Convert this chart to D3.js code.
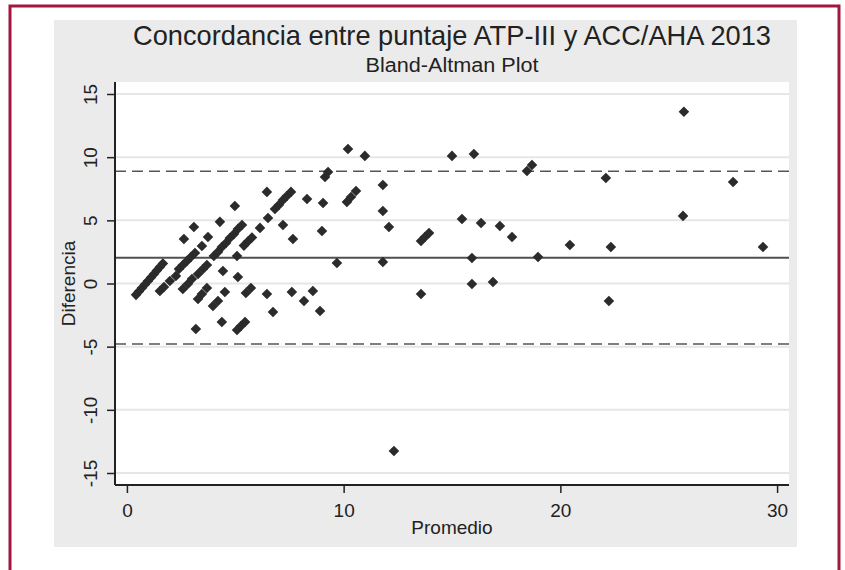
<!DOCTYPE html>
<html>
<head>
<meta charset="utf-8">
<script src="https://cdn.jsdelivr.net/npm/d3@7"></script>
<style>
  body { margin: 0; background: #fff; }
  text { font-family: "Liberation Sans", Arial, sans-serif; fill: #222; }
</style>
</head>
<body>
<script>
// Bland-Altman: promedio (x) y diferencia (y)
const promedio = [
  0.42, 0.55, 0.69, 0.83, 0.97, 1.11, 1.25, 1.38, 1.52, 1.66,
  1.52, 1.71, 1.98, 2.26,
  2.40, 2.58, 2.77, 2.95, 3.14,
  2.63, 3.09, 3.46, 3.74,
  2.58, 2.81, 3.00, 3.28, 3.46, 3.69, 3.28, 3.51, 3.69,
  3.18, 3.97, 4.20, 4.52,
  4.01, 4.20, 4.38, 4.57, 4.75, 4.94, 5.12, 5.31,
  4.43, 4.29, 4.38, 4.98, 5.08, 5.12,
  5.40, 5.58, 5.77, 5.49, 5.72, 5.08, 5.26, 5.45,
  6.14, 6.46, 6.51, 6.83, 7.01, 7.20, 7.38, 7.57,
  7.20, 7.66, 6.46, 6.74, 7.61, 8.17, 8.58, 8.91,
  8.31, 9.05, 9.00, 9.69, 9.14, 9.28,
  10.20, 10.98, 10.15, 10.34, 10.57,
  11.81, 11.81, 12.09, 11.81, 12.32,
  13.57, 13.57, 13.75, 13.94,
  15.00, 16.01, 15.46, 15.92, 15.92, 16.34, 16.89, 17.21, 17.77,
  18.46, 18.69, 18.97, 20.44,
  22.10, 22.33, 22.24, 25.70, 25.66, 27.97, 29.35
];
const diferencia = [
  -0.90, -0.63, -0.36, -0.08, 0.20, 0.47, 0.75, 1.03, 1.30, 1.58,
  -0.59, -0.28, 0.20, 0.60,
  1.15, 1.47, 1.78, 2.10, 2.42,
  3.52, 4.47, 2.97, 3.68,
  -0.44, -0.04, 0.36, -1.23, -0.83, -0.36, 0.75, 1.15, 1.47,
  -3.60, -1.78, -1.39, -0.67,
  2.18, 2.50, 2.89, 3.21, 3.60, 3.92, 4.32, 4.63,
  0.99, 4.88, -3.05, 6.14, 2.18, 0.51,
  3.00, 3.33, 3.64, -0.75, -0.36, -3.68, -3.37, -3.05,
  4.40, 7.25, 5.19, 5.90, 6.22, 6.61, 6.93, 7.25,
  4.63, 3.52, -0.83, -2.26, -0.67, -1.39, -0.59, -2.18,
  6.69, 6.37, 4.16, 1.62, 8.43, 8.83,
  10.65, 10.10, 6.45, 6.85, 7.32,
  7.80, 5.74, 4.47, 1.70, -13.26,
  -0.83, 3.37, 3.68, 4.00,
  10.10, 10.25, 5.11, 2.02, -0.04, 4.79, 0.12, 4.55, 3.68,
  8.91, 9.38, 2.10, 3.05,
  8.35, 2.89, -1.39, 13.60, 5.35, 8.04, 2.89
];

const meanDiff = 2.04;
const limits = [8.88, -4.79];

const xTicks = [0, 10, 20, 30];
const yTicks = [-15, -10, -5, 0, 5, 10, 15];

const titulo = "Concordancia entre puntaje ATP-III y ACC/AHA 2013";
const subtitulo = "Bland-Altman Plot";

const W = 845, H = 570;
const plot = { left: 115, right: 789, top: 82, bottom: 485 };

const svg = d3.select('body').append('svg')
  .attr('width', W)
  .attr('height', H);

// marco exterior
svg.append('rect')
  .attr('x', 10).attr('y', 6)
  .attr('width', 829).attr('height', 580)
  .attr('fill', '#fff')
  .attr('stroke', '#a3173f')
  .attr('stroke-width', 3);

// fondo gris del grafico
svg.append('rect')
  .attr('x', 54).attr('y', 20)
  .attr('width', 743).attr('height', 527)
  .attr('fill', '#ebebeb');

svg.append('rect')
  .attr('x', plot.left).attr('y', plot.top)
  .attr('width', plot.right - plot.left).attr('height', plot.bottom - plot.top)
  .attr('fill', '#fff');

const x = d3.scaleLinear().domain([-0.55, 30.55]).range([plot.left, plot.right]);
const y = d3.scaleLinear().domain([-15.95, 15.95]).range([plot.bottom, plot.top]);

// lineas de cuadricula
svg.append('g')
  .selectAll('line')
  .data(yTicks)
  .join('line')
  .attr('x1', plot.left).attr('x2', plot.right)
  .attr('y1', d => y(d)).attr('y2', d => y(d))
  .attr('stroke', '#e6e6e6')
  .attr('stroke-width', 2);

// media y limites de concordancia
svg.append('line')
  .attr('x1', plot.left).attr('x2', plot.right)
  .attr('y1', y(meanDiff)).attr('y2', y(meanDiff))
  .attr('stroke', '#505050')
  .attr('stroke-width', 2);

svg.append('g')
  .selectAll('line')
  .data(limits)
  .join('line')
  .attr('x1', plot.left).attr('x2', plot.right)
  .attr('y1', d => y(d)).attr('y2', d => y(d))
  .attr('stroke', '#555')
  .attr('stroke-width', 1.6)
  .attr('stroke-dasharray', '11,6');

// puntos (diamantes)
const diamond = d3.symbol().type(d3.symbolSquare).size(56);
svg.append('g')
  .selectAll('path')
  .data(promedio.map((p, i) => [p, diferencia[i]]))
  .join('path')
  .attr('d', diamond)
  .attr('transform', d => `translate(${x(d[0])},${y(d[1])}) rotate(45)`)
  .attr('fill', '#2b2b2b');

// ejes
const yAxis = d3.axisLeft(y).tickValues(yTicks).tickSize(8).tickFormat(d => String(d));
const gy = svg.append('g')
  .attr('transform', `translate(${plot.left},0)`)
  .call(yAxis);
gy.select('.domain').attr('d', `M0,${plot.top}V${plot.bottom}`).attr('stroke', '#222').attr('stroke-width', 2);
gy.selectAll('.tick line').attr('stroke', '#222').attr('stroke-width', 1.5);
gy.selectAll('.tick text')
  .attr('font-size', 19)
  .attr('fill', '#222')
  .attr('text-anchor', 'middle')
  .attr('x', 0).attr('dy', 0)
  .attr('transform', 'translate(-18,0) rotate(-90)');

const xAxis = d3.axisBottom(x).tickValues(xTicks).tickSize(8);
const gx = svg.append('g')
  .attr('transform', `translate(0,${plot.bottom})`)
  .call(xAxis);
gx.select('.domain').attr('d', `M${plot.left},0H${plot.right}`).attr('stroke', '#222').attr('stroke-width', 2);
gx.selectAll('.tick line').attr('stroke', '#222').attr('stroke-width', 1.5);
gx.selectAll('.tick text')
  .attr('font-size', 19)
  .attr('fill', '#222')
  .attr('y', 32).attr('dy', 0);

// titulos
const cx = (plot.left + plot.right) / 2;
svg.append('text')
  .attr('x', cx).attr('y', 45)
  .attr('text-anchor', 'middle')
  .attr('font-size', 28)
  .attr('textLength', 638).attr('lengthAdjust', 'spacingAndGlyphs')
  .text(titulo);

svg.append('text')
  .attr('x', cx).attr('y', 72)
  .attr('text-anchor', 'middle')
  .attr('font-size', 20)
  .attr('textLength', 173).attr('lengthAdjust', 'spacingAndGlyphs')
  .text(subtitulo);

svg.append('text')
  .attr('x', cx).attr('y', 534)
  .attr('text-anchor', 'middle')
  .attr('font-size', 19)
  .text('Promedio');

svg.append('text')
  .attr('transform', `translate(75,${(plot.top + plot.bottom) / 2}) rotate(-90)`)
  .attr('text-anchor', 'middle')
  .attr('font-size', 19)
  .text('Diferencia');
</script>
</body>
</html>
